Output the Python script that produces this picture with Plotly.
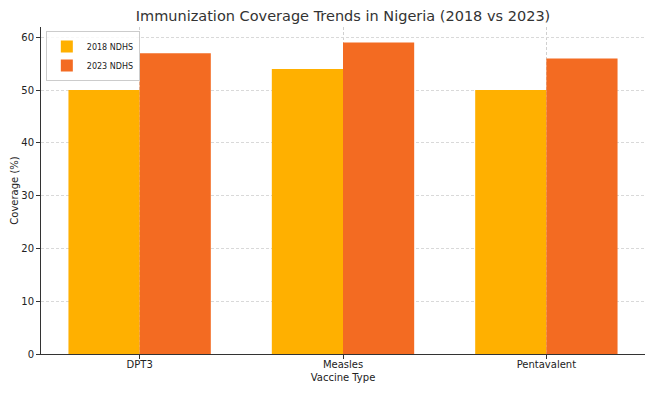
import plotly.graph_objects as go

categories = ["DPT3", "Measles", "Pentavalent"]
cov_2018 = [50, 54, 50]
cov_2023 = [57, 59, 56]
series_names = ["2018 NDHS", "2023 NDHS"]

fig = go.Figure()
fig.add_trace(go.Bar(x=categories, y=cov_2018, name=series_names[0],
                     marker=dict(color="#FFB000", line=dict(width=0))))
fig.add_trace(go.Bar(x=categories, y=cov_2023, name=series_names[1],
                     marker=dict(color="#F36B22", line=dict(width=0))))

fig.update_layout(
    width=655, height=393,
    margin=dict(l=41, r=10, t=27, b=39, autoexpand=False),
    paper_bgcolor="white", plot_bgcolor="white",
    barmode="group", bargap=0.3, bargroupgap=0,
    font=dict(family="DejaVu Sans", size=10, color="#222"),
    title=dict(text="Immunization Coverage Trends in Nigeria (2018 vs 2023)",
               x=0.5, xref="paper", xanchor="center", y=1 - 16 / 393, yref="container", yanchor="middle",
               font=dict(size=14.5, color="#333"), automargin=False),
    legend=dict(x=0.008, y=0.988, xanchor="left", yanchor="top",
                bgcolor="rgba(255,255,255,0.8)", bordercolor="#cccccc", borderwidth=1,
                font=dict(size=8), itemwidth=30, tracegroupgap=0),
    showlegend=True,
)
fig.update_xaxes(
    range=[-0.485, 2.485], showline=True, linecolor="#333", linewidth=1,
    ticks="outside", ticklen=4, tickcolor="#333", automargin=False,
    ticklabelstandoff=-3,
    showgrid=True, gridcolor="#d0d0d0", griddash="3px,2px", gridwidth=1,
    title=dict(text="Vaccine Type", font=dict(size=10), standoff=4),
    zeroline=False, mirror=False,
)
fig.update_yaxes(
    range=[0, 61.95], showline=True, linecolor="#333", linewidth=1,
    ticks="outside", ticklen=4, tickcolor="#333", dtick=10, automargin=False,
    showgrid=True, gridcolor="#d9d9d9", griddash="3px,2px", gridwidth=0.8,
    title=dict(text="Coverage (%)", font=dict(size=10), standoff=0),
    zeroline=False, mirror=False,
)
fig.write_html("out.html", config={"displayModeBar": False},
               post_script="document.body.style.margin='0';document.body.style.overflow='hidden';")
